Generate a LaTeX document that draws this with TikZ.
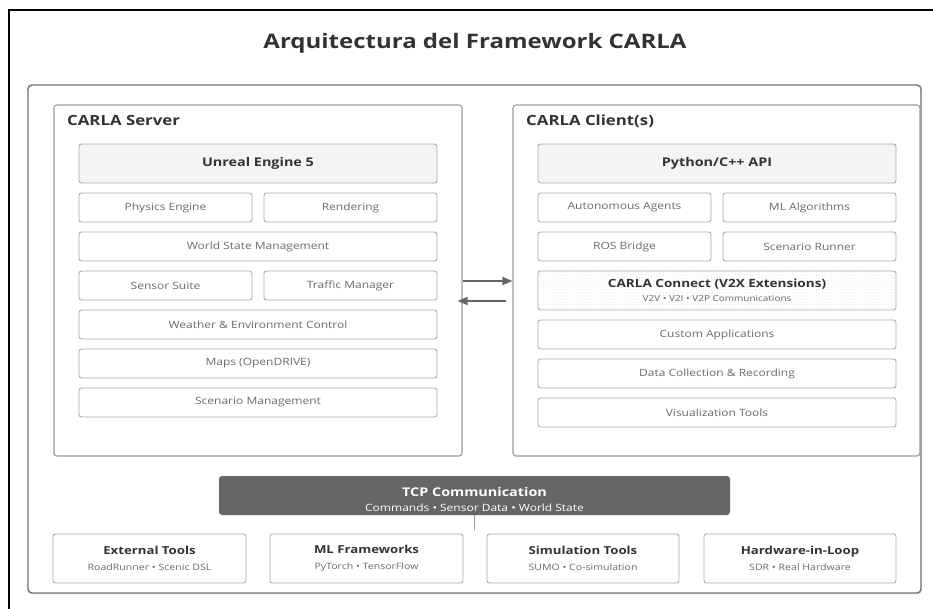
\documentclass[tikz,border=0pt]{standalone}
\usepackage{fontspec}
\setmainfont{Open Sans}[FakeStretch=1.2]
\usetikzlibrary{arrows.meta,patterns,shadows}
\definecolor{framegray}{HTML}{707070}
\definecolor{boxgray}{HTML}{9A9A9A}
\definecolor{inboxgray}{HTML}{ABABAB}
\definecolor{labgray}{HTML}{6A6A6A}
\definecolor{darktext}{HTML}{333333}
\definecolor{headfill}{HTML}{F4F4F6}
\definecolor{tcpfill}{HTML}{666666}
\definecolor{arrgray}{HTML}{666666}
\definecolor{dotgray}{HTML}{D6D6D6}
\newcommand{\subtxt}{\fontsize{8.8}{10}\selectfont\mdseries\color{labgray}}
\begin{document}
\begin{tikzpicture}[x=1pt,y=-1pt,
  panel/.style={draw=boxgray, line width=1.1pt, rounded corners=3pt, fill=white, inner sep=0},
  comp/.style={draw=inboxgray, line width=0.9pt, rounded corners=2.5pt, fill=white, text=labgray,
    font=\fontsize{10}{12}\selectfont, inner sep=0, minimum height=29pt},
  headbox/.style={comp, fill=headfill, text=darktext, font=\fontsize{12}{14}\selectfont\bfseries, minimum height=39pt},
  paneltitle/.style={anchor=base west, text=darktext, font=\fontsize{14}{16}\selectfont\bfseries, inner sep=0},
  extbox/.style={comp, minimum height=49pt, text=darktext, align=center, font=\fontsize{11}{16}\selectfont},
  arr/.style={draw=arrgray, line width=1.5pt, -{Triangle[length=10pt,width=8pt]}}
]
\useasboundingbox (0,0) rectangle (933,608);
\fill[white] (0,0) rectangle (933,608);
% outer black frame (cropped on right and bottom)
\draw[line width=1.6pt] (9,640) -- (9,10) -- (960,10);
% title
\node[anchor=base, text=darktext, font=\fontsize{20}{24}\selectfont\bfseries, inner sep=0] (title) at (475,48) {Arquitectura del Framework CARLA};
% main container
\node[draw=framegray, line width=1.4pt, rounded corners=4pt, fill=white,
  drop shadow={opacity=0.18, shadow xshift=0.8pt, shadow yshift=-1.4pt},
  minimum width=893pt, minimum height=508pt, inner sep=0] (outer) at (474.5,339) {};
% panels
\node[panel, minimum width=408pt, minimum height=351pt] (server) at (258,280.5) {};
\node[panel, minimum width=407pt, minimum height=351pt] (client) at (716.5,280.5) {};
\node[paneltitle] (servertitle) at (67,125) {CARLA Server};
\node[paneltitle] (clienttitle) at (526,125) {CARLA Client(s)};
% server components
\node[headbox, minimum width=358pt] (ue) at (258,163.5) {Unreal Engine 5};
\node[comp, minimum width=173pt] (phys) at (165.5,207.5) {Physics Engine};
\node[comp, minimum width=173pt] (rend) at (350.5,207.5) {Rendering};
\node[comp, minimum width=358pt] (world) at (258,246.5) {World State Management};
\node[comp, minimum width=173pt] (sens) at (165.5,285.5) {Sensor Suite};
\node[comp, minimum width=173pt] (traf) at (350.5,285.5) {Traffic Manager};
\node[comp, minimum width=358pt] (weather) at (258,324.5) {Weather \& Environment Control};
\node[comp, minimum width=358pt] (maps) at (258,363.5) {Maps (OpenDRIVE)};
\node[comp, minimum width=358pt] (scen) at (258,402.5) {Scenario Management};
% client components
\node[headbox, minimum width=358pt] (api) at (717,163.5) {Python/C++ API};
\node[comp, minimum width=173pt] (agents) at (624.5,207.5) {Autonomous Agents};
\node[comp, minimum width=173pt] (mlalg) at (809.5,207.5) {ML Algorithms};
\node[comp, minimum width=173pt] (ros) at (624.5,246.5) {ROS Bridge};
\node[comp, minimum width=173pt] (runner) at (809.5,246.5) {Scenario Runner};
\node[comp, minimum width=358pt, minimum height=39pt, preaction={fill=white}, pattern=dots, pattern color=dotgray,
  align=center, text=darktext, font=\fontsize{11.3}{14}\selectfont\bfseries] (connect) at (717,290.5)
  {CARLA Connect (V2X Extensions)\\{\fontsize{8.3}{10}\selectfont\mdseries\color{labgray}V2V • V2I • V2P Communications}};
\node[comp, minimum width=358pt] (custom) at (717,334.5) {Custom Applications};
\node[comp, minimum width=358pt] (data) at (717,373.5) {Data Collection \& Recording};
\node[comp, minimum width=358pt] (vis) at (717,412.5) {Visualization Tools};
% arrows between server and client
\draw[arr] ([yshift=-0.5pt]server.east) -- ([yshift=-0.5pt]client.west);
\draw[arr] ([xshift=-6pt,yshift=-20.5pt]client.west) -- ([xshift=-5pt,yshift=-20.5pt]server.east);
% TCP
\node[draw=none, fill=tcpfill, rounded corners=3pt, minimum width=511pt, minimum height=39pt, inner sep=0,
  text=white, align=center, font=\fontsize{12}{15}\selectfont\bfseries] (tcp) at (474.5,495.5)
  {\rule{0pt}{17pt}TCP Communication\\{\fontsize{10}{11}\selectfont\mdseries Commands • Sensor Data • World State}};
\coordinate (tcpend) at (474.5,530);
\draw[draw=boxgray, line width=1pt] (tcp.south) -- (tcpend);
% bottom boxes
\node[extbox, minimum width=193pt] (ext) at (149.5,558.5) {\bfseries External Tools\\{\subtxt RoadRunner • Scenic DSL}};
\node[extbox, minimum width=193pt] (mlf) at (366.5,558.5) {\bfseries ML Frameworks\\{\subtxt PyTorch • TensorFlow}};
\node[extbox, minimum width=192pt] (sim) at (583,558.5) {\bfseries Simulation Tools\\{\subtxt SUMO • Co-simulation}};
\node[extbox, minimum width=192pt] (hil) at (800,558.5) {\bfseries Hardware-in-Loop\\{\subtxt SDR • Real Hardware}};
\end{tikzpicture}
\end{document}
